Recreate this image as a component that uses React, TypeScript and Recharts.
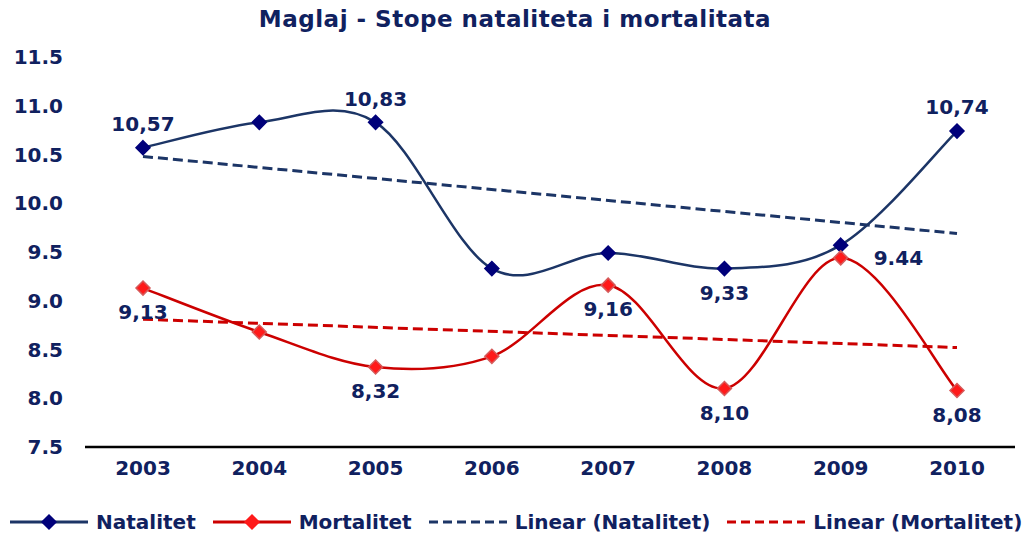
import { LineChart, Line, XAxis, YAxis } from "recharts";

const years = ["2003", "2004", "2005", "2006", "2007", "2008", "2009", "2010"];
const natalitet = [10.57, 10.83, 10.83, 9.33, 9.49, 9.33, 9.57, 10.74];
const mortalitet = [9.13, 8.68, 8.32, 8.43, 9.16, 8.1, 9.44, 8.08];
// trend lines: only the end points
const natalitetTrend = [10.48, null, null, null, null, null, null, 9.69];
const mortalitetTrend = [8.81, null, null, null, null, null, null, 8.52];
const natalitetLabels = ["10,57", "", "10,83", "", "", "9,33", "", "10,74"];
const mortalitetLabels = ["9,13", "", "8,32", "", "9,16", "8,10", "9.44", "8,08"];
const yTicks = [7.5, 8, 8.5, 9, 9.5, 10, 10.5, 11, 11.5];

const data = years.map((year, i) => ({
  year,
  natalitet: natalitet[i],
  mortalitet: mortalitet[i],
  natalitetTrend: natalitetTrend[i],
  mortalitetTrend: mortalitetTrend[i],
}));

const NAVY_TEXT = "#10215f";
const NAVY_LINE = "#1c3566";
const NAVY_DOT = "#00007a";
const RED_LINE = "#cc0000";
const RED_DOT = "#ff1a1a";
const FONT = "'DejaVu Sans', Verdana, sans-serif";

// Excel-style smoothed line (Catmull-Rom bezier)
const smoothCurve = (ctx: any) => {
  let pts: number[][] = [];
  return {
    areaStart() {},
    areaEnd() {},
    lineStart() {
      pts = [];
    },
    point(x: number, y: number) {
      pts.push([+x, +y]);
    },
    lineEnd() {
      if (!pts.length) return;
      ctx.moveTo(pts[0][0], pts[0][1]);
      for (let i = 0; i < pts.length - 1; i++) {
        const p0 = pts[i - 1] || pts[i];
        const p1 = pts[i];
        const p2 = pts[i + 1];
        const p3 = pts[i + 2] || p2;
        ctx.bezierCurveTo(
          p1[0] + (p2[0] - p0[0]) / 6,
          p1[1] + (p2[1] - p0[1]) / 6,
          p2[0] - (p3[0] - p1[0]) / 6,
          p2[1] - (p3[1] - p1[1]) / 6,
          p2[0],
          p2[1]
        );
      }
    },
  };
};

const Diamond = ({ cx, cy, fill, stroke }: any) => (
  <path
    d={`M${cx},${cy - 7} L${cx + 7},${cy} L${cx},${cy + 7} L${cx - 7},${cy} Z`}
    fill={fill}
    stroke={stroke}
    strokeWidth={1.5}
  />
);

// where each data label sits relative to its point
const natPlacement: Record<number, string> = { 0: "top", 2: "top", 5: "bottom", 7: "top" };
const mortPlacement: Record<number, string> = {
  0: "bottom", 2: "bottom", 4: "bottom", 5: "bottom", 6: "right", 7: "bottom",
};

const makeLabel = (labels: string[], placement: Record<number, string>) => (props: any) => {
  const { x, y, index } = props;
  const text = labels[index];
  if (!text) return null;
  const pos = placement[index];
  let tx = x;
  let ty = y;
  let anchor = "middle";
  if (pos === "top") ty = y - 24;
  if (pos === "bottom") ty = y + 24;
  if (pos === "right") {
    tx = x + 33;
    anchor = "start";
  }
  return (
    <text
      key={`l-${index}`}
      x={tx}
      y={ty}
      dy="0.36em"
      textAnchor={anchor}
      fontFamily={FONT}
      fontWeight="bold"
      fontSize={20}
      fill={NAVY_TEXT}
    >
      {text}
    </text>
  );
};

const YTick = ({ x, y, payload }: any) => (
  <text x={x - 22} y={y} dy="0.36em" textAnchor="end" fontFamily={FONT} fontWeight="bold" fontSize={20} fill={NAVY_TEXT}>
    {payload.value.toFixed(1)}
  </text>
);

const XTick = ({ x, y, payload }: any) => (
  <text x={x} y={y} dy={28} textAnchor="middle" fontFamily={FONT} fontWeight="bold" fontSize={20} fill={NAVY_TEXT}>
    {payload.value}
  </text>
);

const LegendSymbol = ({ color, dashed, dot }: any) => (
  <svg width={78} height={20}>
    <line x1={0} y1={10} x2={78} y2={10} stroke={color} strokeWidth={3} strokeDasharray={dashed ? "9 5" : undefined} />
    {dot && <Diamond cx={39} cy={10} fill={dot} stroke={dot} />}
  </svg>
);

const legendItems = [
  { name: "Natalitet", color: NAVY_LINE, dot: NAVY_DOT, dashed: false },
  { name: "Mortalitet", color: RED_LINE, dot: RED_DOT, dashed: false },
  { name: "Linear (Natalitet)", color: NAVY_LINE, dot: null, dashed: true },
  { name: "Linear (Mortalitet)", color: RED_LINE, dot: null, dashed: true },
];

export default function App() {
  return (
    <div style={{ position: "absolute", left: 0, top: 0, width: 1023, height: 534, background: "#fff" }}>
      <div
        style={{
          position: "absolute",
          left: 0,
          top: 6,
          width: 1030,
          textAlign: "center",
          fontFamily: FONT,
          fontWeight: "bold",
          fontSize: 23,
          letterSpacing: 0.5,
          color: NAVY_TEXT,
        }}
      >
        Maglaj - Stope nataliteta i mortalitata
      </div>
      <LineChart width={1023} height={534} data={data} margin={{ top: 57, right: 8, bottom: 47, left: 0 }}>
        <XAxis
          dataKey="year"
          padding={{ left: 58, right: 58 }}
          axisLine={{ stroke: "#000", strokeWidth: 2.5 }}
          tickLine={false}
          tickSize={0}
          tickMargin={0}
          height={40}
          tick={<XTick />}
        />
        <YAxis
          domain={[7.5, 11.5]}
          ticks={yTicks}
          width={85}
          axisLine={false}
          tickLine={false}
          tickSize={0}
          tickMargin={0}
          tick={<YTick />}
        />
        <Line
          dataKey="natalitetTrend"
          type="linear"
          connectNulls
          stroke={NAVY_LINE}
          strokeWidth={3}
          strokeDasharray="10 5"
          dot={false}
          isAnimationActive={false}
        />
        <Line
          dataKey="mortalitetTrend"
          type="linear"
          connectNulls
          stroke={RED_LINE}
          strokeWidth={3}
          strokeDasharray="10 5"
          dot={false}
          isAnimationActive={false}
        />
        <Line
          dataKey="natalitet"
          type={smoothCurve as any}
          stroke={NAVY_LINE}
          strokeWidth={2.5}
          dot={(p: any) => <Diamond key={`n-${p.index}`} cx={p.cx} cy={p.cy} fill={NAVY_DOT} stroke={NAVY_DOT} />}
          label={makeLabel(natalitetLabels, natPlacement)}
          isAnimationActive={false}
        />
        <Line
          dataKey="mortalitet"
          type={smoothCurve as any}
          stroke={RED_LINE}
          strokeWidth={2.5}
          dot={(p: any) => <Diamond key={`m-${p.index}`} cx={p.cx} cy={p.cy} fill={RED_DOT} stroke="#d65a5a" />}
          label={makeLabel(mortalitetLabels, mortPlacement)}
          isAnimationActive={false}
        />
      </LineChart>
      <div
        style={{
          position: "absolute",
          left: 10,
          top: 510,
          display: "flex",
          alignItems: "center",
          fontFamily: FONT,
          fontWeight: "bold",
          fontSize: 20,
          color: NAVY_TEXT,
          whiteSpace: "nowrap",
        }}
      >
        {legendItems.map((it) => (
          <div key={it.name} style={{ display: "flex", alignItems: "center", marginRight: 17 }}>
            <LegendSymbol color={it.color} dashed={it.dashed} dot={it.dot} />
            <span style={{ marginLeft: 8 }}>{it.name}</span>
          </div>
        ))}
      </div>
    </div>
  );
}
